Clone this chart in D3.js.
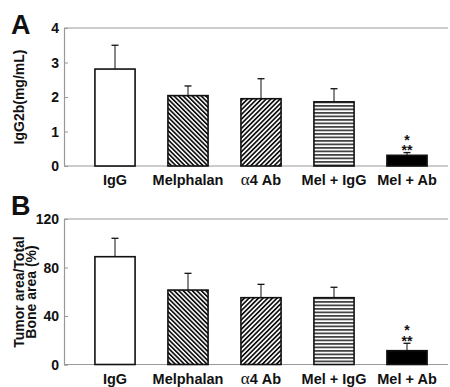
<!DOCTYPE html>
<html>
<head>
<meta charset="utf-8">
<script src="https://cdn.jsdelivr.net/npm/d3@7"></script>
<style>
  html, body { margin: 0; padding: 0; background: #fff; }
  svg { display: block; }
  text { font-family: "Liberation Sans", Arial, Helvetica, sans-serif; font-weight: bold; fill: #111; }
</style>
</head>
<body>
<div id="chart"></div>
<script>
// ---- data ----
const categories = ["IgG", "Melphalan", "α4 Ab", "Mel + IgG", "Mel + Ab"];
const fills = ["white", "url(#back)", "url(#fwd)", "url(#horiz)", "black"];

const panelALabel = "A";
const panelAYTitle = ["IgG2b(mg/mL)"];
const panelAValues = [2.81, 2.04, 1.95, 1.86, 0.31];
const panelAErrors = [0.69, 0.28, 0.58, 0.38, 0.08];
const panelATicks = [0, 1, 2, 3, 4];
const panelAMax = 4;

const panelBLabel = "B";
const panelBYTitle = ["Tumor area/Total", "Bone area (%)"];
const panelBValues = [88.9, 61.4, 55.1, 55.1, 11.4];
const panelBErrors = [15.2, 13.8, 11.0, 8.6, 6.1];
const panelBTicks = [0, 40, 80, 120];
const panelBMax = 120;

const significance = ["", "", "", "", ["*", "**"]];

// ---- drawing ----
const W = 450, H = 387;
const svg = d3.select("#chart").append("svg").attr("width", W).attr("height", H);

const defs = svg.append("defs");
function hatch(id, angle, period, lw, color) {
  const p = defs.append("pattern").attr("id", id)
    .attr("patternUnits", "userSpaceOnUse")
    .attr("width", period).attr("height", period)
    .attr("patternTransform", `rotate(${angle})`);
  p.append("rect").attr("width", period).attr("height", period).attr("fill", "white");
  p.append("rect").attr("x", 0).attr("y", 0).attr("width", lw).attr("height", period).attr("fill", color);
}
hatch("back", -45, 3.2, 1.7, "#111");
hatch("fwd", 45, 3.3, 1.7, "#111");
hatch("horiz", 90, 3.5, 1.8, "#444");

const x = d3.scaleBand().domain(categories).range([78.5, 443.5]).paddingInner(0.45).paddingOuter(0.225);

function panel(cfg) {
  const g = svg.append("g");
  const y = d3.scaleLinear().domain([0, cfg.max]).range([cfg.bottom, cfg.top]);
  const left = 64, right = 448;

  // top frame line (gray)
  g.append("line").attr("x1", left).attr("x2", right).attr("y1", y(cfg.max)).attr("y2", y(cfg.max))
    .attr("stroke", "#999").attr("stroke-width", 1.2);

  // y axis
  const ax = g.append("g").attr("transform", `translate(${left},0)`)
    .call(d3.axisRight(y).tickValues(cfg.ticks).tickSize(4).tickFormat(""));
  ax.select(".domain").attr("stroke", "#999").attr("stroke-width", 1.2);
  ax.selectAll(".tick line").attr("stroke", "#999");

  // tick labels
  g.selectAll(".ytl").data(cfg.ticks).join("text")
    .attr("x", 59).attr("y", d => y(d) + 5)
    .attr("text-anchor", "end").attr("font-size", 14).text(d => d);

  // x axis baseline
  const xa = g.append("g").attr("transform", `translate(0,${cfg.bottom})`)
    .call(d3.axisBottom(x).tickSize(0).tickPadding(9).tickFormat(""));
  xa.select(".domain").attr("d", `M${left},0H${right}`).attr("stroke", "#999").attr("stroke-width", 1.2);

  // category labels (alpha in symbol-like serif)
  categories.forEach(c => {
    const t = g.append("text").attr("x", x(c) + x.bandwidth() / 2).attr("y", cfg.bottom + 19)
      .attr("text-anchor", "middle").attr("font-size", 14.5);
    if (c.startsWith("α")) {
      t.append("tspan").attr("font-family", "Liberation Serif, Times New Roman, serif")
        .attr("font-weight", "normal").attr("font-size", 17).text("α");
      t.append("tspan").text(c.slice(1));
    } else {
      t.text(c);
    }
  });

  // error bars
  const eg = g.append("g");
  categories.forEach((c, i) => {
    const cx = x(c) + x.bandwidth() / 2;
    const v = cfg.values[i], e = cfg.errors[i];
    eg.append("line").attr("x1", cx).attr("x2", cx).attr("y1", y(v)).attr("y2", y(v + e))
      .attr("stroke", "#111").attr("stroke-width", 1);
    eg.append("line").attr("x1", cx - 3.5).attr("x2", cx + 3.5).attr("y1", y(v + e)).attr("y2", y(v + e))
      .attr("stroke", "#111").attr("stroke-width", 1.3);
  });

  // bars
  g.selectAll(".bar").data(categories).join("rect")
    .attr("x", d => x(d)).attr("width", x.bandwidth())
    .attr("y", (d, i) => y(cfg.values[i]))
    .attr("height", (d, i) => cfg.bottom - y(cfg.values[i]))
    .attr("fill", (d, i) => fills[i])
    .attr("stroke", "#111").attr("stroke-width", 1.6);

  // significance stars (one text, stacked tspans)
  categories.forEach((c, i) => {
    if (!significance[i]) return;
    const cx = x(c) + x.bandwidth() / 2;
    const top = y(cfg.values[i] + cfg.errors[i]);
    const t = g.append("text").attr("text-anchor", "middle").attr("font-size", 14);
    significance[i].forEach((s, k) => {
      t.append("tspan").attr("x", cx).attr("y", top - 8 + k * 10.5).text(s);
    });
  });

  // y title (single text, stacked lines)
  const n = cfg.ytitle.length;
  const tt = g.append("text").attr("transform", `translate(${cfg.titleX},${cfg.titleY}) rotate(-90)`)
    .attr("text-anchor", "middle").attr("font-size", 14);
  cfg.ytitle.forEach((s, k) => {
    tt.append("tspan").attr("x", 0).attr("y", 5 + (k - (n - 1) / 2) * 11.5).text(s);
  });

  // panel letter
  g.append("text").attr("x", 11).attr("y", cfg.letterY).attr("font-size", 27).text(cfg.letter);
}

panel({ top: 28, bottom: 166, max: panelAMax, ticks: panelATicks, values: panelAValues,
        errors: panelAErrors, ytitle: panelAYTitle, titleX: 19, titleY: 97, letter: panelALabel, letterY: 34 });
panel({ top: 219, bottom: 364.5, max: panelBMax, ticks: panelBTicks, values: panelBValues,
        errors: panelBErrors, ytitle: panelBYTitle, titleX: 25, titleY: 292, letter: panelBLabel, letterY: 215 });
</script>
</body>
</html>
